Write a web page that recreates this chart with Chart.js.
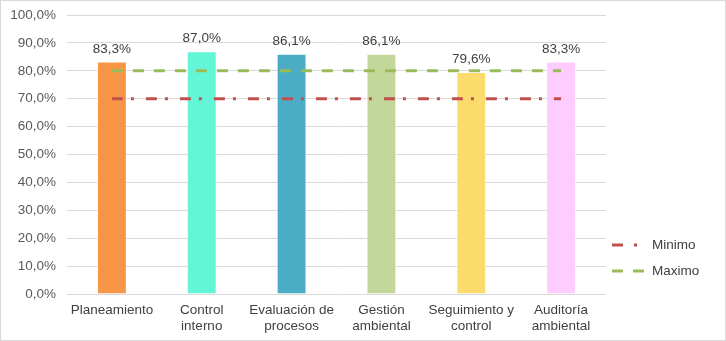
<!DOCTYPE html>
<html>
<head>
<meta charset="utf-8">
<script src="https://cdn.jsdelivr.net/npm/chart.js@4/dist/chart.umd.min.js"></script>
<style>
  html, body { margin: 0; padding: 0; background: #fff; }
  #wrap { position: relative; width: 726px; height: 341px; box-sizing: border-box; border: 1px solid #d9d9d9; }
  canvas { display: block; }
</style>
</head>
<body>
<div id="wrap"><canvas id="c" width="724" height="339"></canvas></div>
<script>
// Categories (multi-line labels)
const categories = [
  ['Planeamiento'],
  ['Control', 'interno'],
  ['Evaluación de', 'procesos'],
  ['Gestión', 'ambiental'],
  ['Seguimiento y', 'control'],
  ['Auditoría', 'ambiental']
];
// Scores per area (%)
const scores = [83.3, 87.0, 86.1, 86.1, 79.6, 83.3];
const barColors = ['#F79646', '#62F5D6', '#4BACC6', '#C4D79B', '#FADB6B', '#FFCCFF'];
// Reference levels (%)
const minimo = [70, 70, 70, 70, 70, 70];
const maximo = [80, 80, 80, 80, 80, 80];
const yTicks = [0, 10, 20, 30, 40, 50, 60, 70, 80, 90, 100];

const fmt = v => v.toFixed(1).replace('.', ',') + '%';
const FONT = '"Liberation Sans", Arial, sans-serif';
const FS = 13.5;

const minDash = [11, 8, 3, 12];
const maxDash = [11, 10];

// Value labels above the bars
const valueLabels = {
  id: 'valueLabels',
  afterDatasetsDraw(chart) {
    const ctx = chart.ctx;
    const meta = chart.getDatasetMeta(0);
    ctx.save();
    ctx.font = FS + 'px ' + FONT;
    ctx.fillStyle = '#404040';
    ctx.textAlign = 'center';
    ctx.textBaseline = 'bottom';
    meta.data.forEach((bar, i) => {
      ctx.fillText(fmt(scores[i]), bar.x, bar.y - 6);
    });
    ctx.restore();
  }
};

// Legend on the right with dash samples
const sideLegend = {
  id: 'sideLegend',
  afterDraw(chart) {
    const ctx = chart.ctx;
    const items = [
      { text: 'Minimo', color: '#C0504D', dash: [11, 11, 3, 30], end: 637, y: 244 },
      { text: 'Maximo', color: '#9BBB59', dash: maxDash, end: 646, y: 270 }
    ];
    ctx.save();
    ctx.font = FS + 'px ' + FONT;
    ctx.textBaseline = 'middle';
    items.forEach(it => {
      ctx.strokeStyle = it.color;
      ctx.lineWidth = 3;
      ctx.setLineDash(it.dash);
      ctx.beginPath();
      ctx.moveTo(611, it.y);
      ctx.lineTo(it.end, it.y);
      ctx.stroke();
      ctx.setLineDash([]);
      ctx.fillStyle = '#404040';
      ctx.fillText(it.text, 651, it.y);
    });
    ctx.restore();
  }
};

new Chart(document.getElementById('c'), {
  data: {
    labels: categories,
    datasets: [
      {
        type: 'bar',
        label: 'Puntaje',
        data: scores,
        backgroundColor: barColors,
        borderColor: 'rgba(255,255,255,0.6)',
        borderWidth: 1,
        categoryPercentage: 0.64,
        barPercentage: 0.52,
        order: 2
      },
      {
        type: 'line',
        label: 'Minimo',
        data: minimo,
        borderColor: '#C0504D',
        borderWidth: 3,
        borderDash: minDash,
        pointRadius: 0,
        fill: false,
        order: 1
      },
      {
        type: 'line',
        label: 'Maximo',
        data: maximo,
        borderColor: '#9BBB59',
        borderWidth: 3,
        borderDash: maxDash,
        pointRadius: 0,
        fill: false,
        order: 0
      }
    ]
  },
  options: {
    responsive: false,
    animation: false,
    layout: { padding: { top: 14, right: 119, bottom: 0, left: 0 } },
    plugins: { legend: { display: false }, tooltip: { enabled: false } },
    scales: {
      x: {
        grid: { display: false },
        border: { display: false },
        ticks: { color: '#404040', font: { family: FONT, size: FS, lineHeight: 1.2 }, maxRotation: 0, autoSkip: false, padding: 0 },
        afterFit(s) { s.height = 46; s.paddingLeft = 0; s.paddingRight = 0; }
      },
      y: {
        min: 0, max: 100,
        afterBuildTicks(s) { s.ticks = yTicks.map(v => ({ value: v })); },
        grid: { color: '#d9d9d9', lineWidth: 1, drawTicks: false },
        border: { display: false },
        ticks: {
          color: '#595959', font: { family: FONT, size: FS }, padding: 11,
          callback: v => fmt(v)
        },
        afterFit(s) { s.width = 66; s.paddingTop = 0; s.paddingBottom = 0; }
      }
    }
  },
  plugins: [valueLabels, sideLegend]
});
</script>
</body>
</html>
